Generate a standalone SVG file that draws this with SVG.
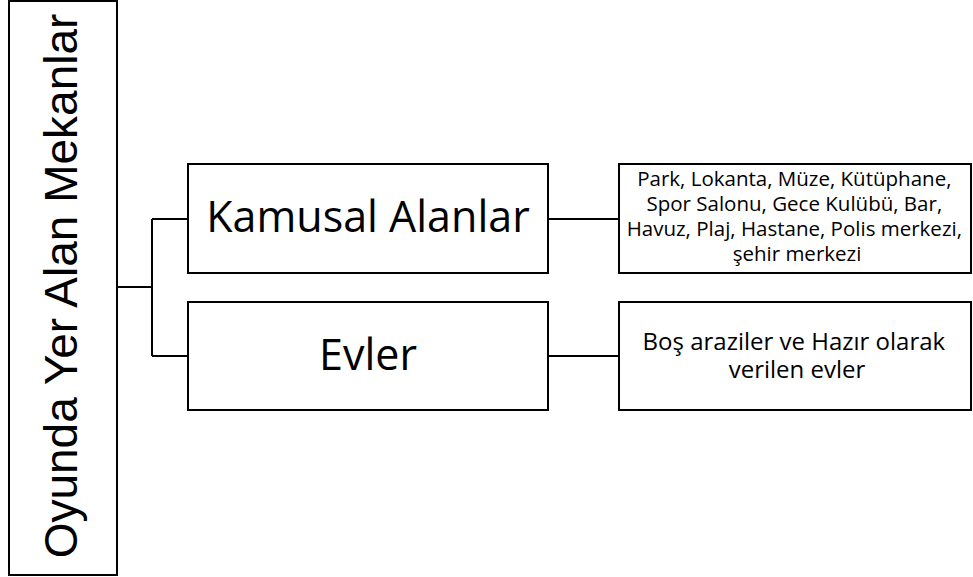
<svg xmlns="http://www.w3.org/2000/svg" width="973" height="577" viewBox="0 0 973 577">
  <style>
    .box { fill: #ffffff; stroke: #000000; stroke-width: 2; }
    .link { fill: none; stroke: #000000; stroke-width: 2; }
    .label { font-family: "Open Sans", "Noto Sans", "Liberation Sans", sans-serif; fill: #000000; text-anchor: middle; }
    .title { font-family: "Liberation Sans", Arial, sans-serif; fill: #000000; text-anchor: middle; }
  </style>
  <rect width="973" height="577" fill="#ffffff"/>

  <g id="connectors">
    <path class="link" d="M117 287 H152 M152 219 V356 M152 219 H188 M152 356 H188"/>
    <path class="link" d="M548 219 H619"/>
    <path class="link" d="M548 356 H619"/>
  </g>

  <g id="root">
    <rect class="box" x="9" y="1" width="108" height="574"/>
    <text class="title" transform="translate(77,286) rotate(-90)" font-size="46">Oyunda Yer Alan Mekanlar</text>
  </g>

  <g id="kamusal">
    <rect class="box" x="188" y="164" width="360" height="109"/>
    <text class="label" x="368" y="232" font-size="43">Kamusal Alanlar</text>
  </g>

  <g id="evler">
    <rect class="box" x="188" y="302" width="360" height="108"/>
    <text class="label" x="368" y="370" font-size="43">Evler</text>
  </g>

  <g id="kamusal-list">
    <rect class="box" x="619" y="164" width="352" height="109"/>
    <text class="label" font-size="20.5">
      <tspan x="797" y="186">Park, Lokanta, Müze, Kütüphane,</tspan>
      <tspan x="797" y="211">Spor Salonu, Gece Kulübü, Bar,</tspan>
      <tspan x="797" y="236">Havuz, Plaj, Hastane, Polis merkezi,</tspan>
      <tspan x="797" y="261">şehir merkezi</tspan>
    </text>
  </g>

  <g id="evler-list">
    <rect class="box" x="619" y="302" width="352" height="108"/>
    <text class="label" font-size="24">
      <tspan x="797" y="350">Boş araziler ve Hazır olarak</tspan>
      <tspan x="797" y="378">verilen evler</tspan>
    </text>
  </g>
</svg>
